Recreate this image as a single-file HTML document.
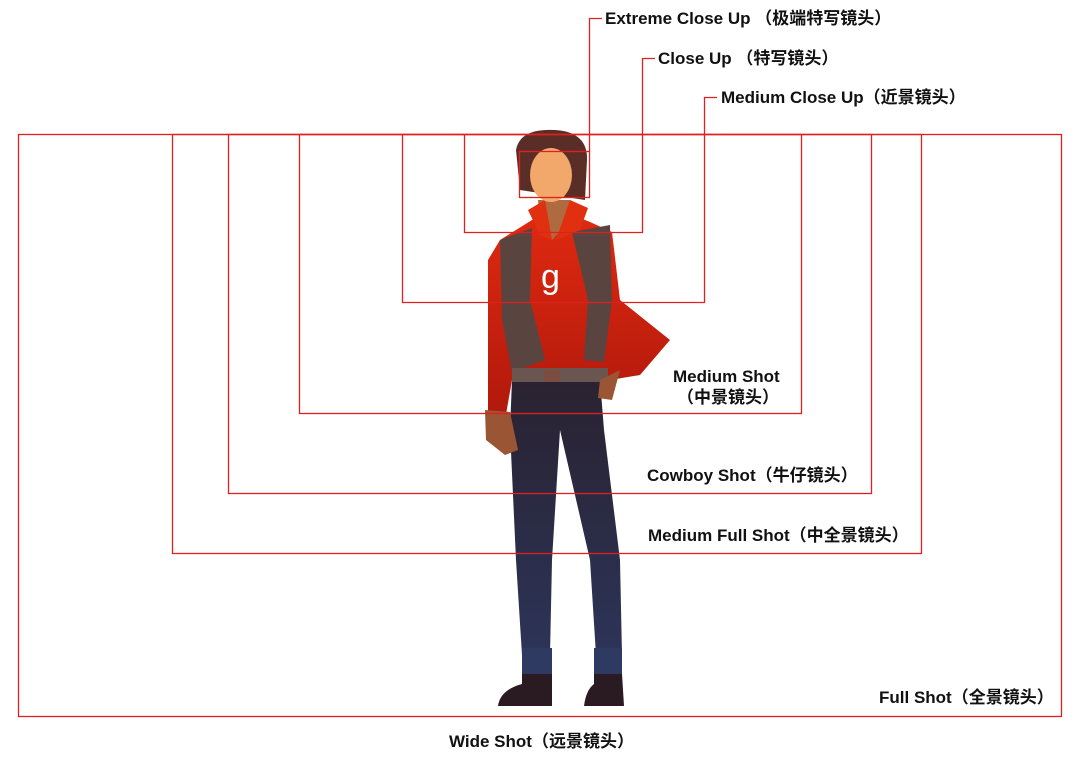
<!DOCTYPE html>
<html><head><meta charset="utf-8"><style>
html,body{margin:0;padding:0;background:#fff;}
svg{display:block;}
text{font-family:"Liberation Sans","Noto Sans CJK SC",sans-serif;font-weight:bold;font-size:17px;fill:#111;}
</style></head><body>
<svg width="1080" height="762" viewBox="0 0 1080 762" xmlns="http://www.w3.org/2000/svg">
<defs>
<linearGradient id="pants" x1="0" y1="0" x2="0" y2="1"><stop offset="0" stop-color="#2a2230"/><stop offset="1" stop-color="#2c3458"/></linearGradient>
<linearGradient id="shirt" x1="0" y1="0" x2="0" y2="1"><stop offset="0" stop-color="#e02a10"/><stop offset="1" stop-color="#b0180c"/></linearGradient>
</defs>
<g>
<path d="M512 380 L600 380 L604 430 L620 560 L622 655 L596 655 L590 560 L560 430 L552 560 L550 655 L522 655 L516 560 L510 430 Z" fill="url(#pants)"/>
<rect x="522" y="648" width="30" height="26" fill="#2f3a63"/>
<rect x="594" y="648" width="28" height="26" fill="#2f3a63"/>
<path d="M522 674 L552 674 L552 706 L498 706 Q500 690 522 684 Z" fill="#2a1a22"/>
<path d="M594 674 L622 674 L624 706 L584 706 Q586 690 594 684 Z" fill="#2a1a22"/>
<path d="M500 240 L540 215 L560 210 L590 222 L612 232 L620 300 L670 340 L640 375 L610 380 L512 380 L505 420 L488 415 L488 260 Z" fill="url(#shirt)"/>
<path d="M500 240 L532 228 L530 300 L545 360 L512 372 L502 320 Z" fill="#5a4440"/>
<path d="M572 232 L610 225 L612 300 L604 362 L584 360 L588 300 Z" fill="#5a4440"/>
<rect x="512" y="368" width="96" height="14" fill="#6a5550"/>
<rect x="544" y="369" width="16" height="13" fill="#7a4d40"/>
<path d="M485 410 L510 412 L518 450 L505 455 L486 440 Z" fill="#9a5535"/>
<path d="M600 380 L620 370 L612 400 L598 398 Z" fill="#9a5535"/>
<path d="M538 200 L570 200 L566 225 L552 240 L540 225 Z" fill="#b06a3f"/>
<path d="M528 210 L545 200 L552 240 L540 235 Z" fill="#e03010"/>
<path d="M588 208 L570 200 L556 240 L580 230 Z" fill="#e03010"/>
<text x="541" y="288" style="fill:#fff;font-size:34px;font-weight:normal">g</text>
<path d="M516 150 Q520 128 555 130 Q588 132 587 160 L585 200 L520 190 Z" fill="#5a2e26"/>
<ellipse cx="551" cy="175" rx="21" ry="27" fill="#f2a86a"/>
</g>
<g fill="none" stroke="#e02020" stroke-width="1.3">
<rect x="18.5" y="134.5" width="1043" height="582"/>
<rect x="172.5" y="134.5" width="749" height="419"/>
<rect x="228.5" y="134.5" width="643" height="359"/>
<rect x="299.5" y="134.5" width="502" height="279"/>
<polyline points="402.5,134.5 402.5,302.5 704.5,302.5 704.5,97.5 717,97.5"/>
<polyline points="464.5,134.5 464.5,232.5 642.5,232.5 642.5,58.5 655,58.5"/>
<rect x="519.5" y="151.5" width="70" height="46"/>
<polyline points="589.5,151.5 589.5,18.5 602,18.5"/>
</g>
<text x="605" y="24">Extreme Close Up （极端特写镜头）</text>
<text x="658" y="64">Close Up （特写镜头）</text>
<text x="721" y="103">Medium Close Up（近景镜头）</text>
<text x="673" y="382">Medium Shot</text>
<text x="677" y="403">（中景镜头）</text>
<text x="647" y="481">Cowboy Shot（牛仔镜头）</text>
<text x="648" y="541">Medium Full Shot（中全景镜头）</text>
<text x="879" y="703">Full Shot（全景镜头）</text>
<text x="449" y="747">Wide Shot（远景镜头）</text>
</svg>
</body></html>
